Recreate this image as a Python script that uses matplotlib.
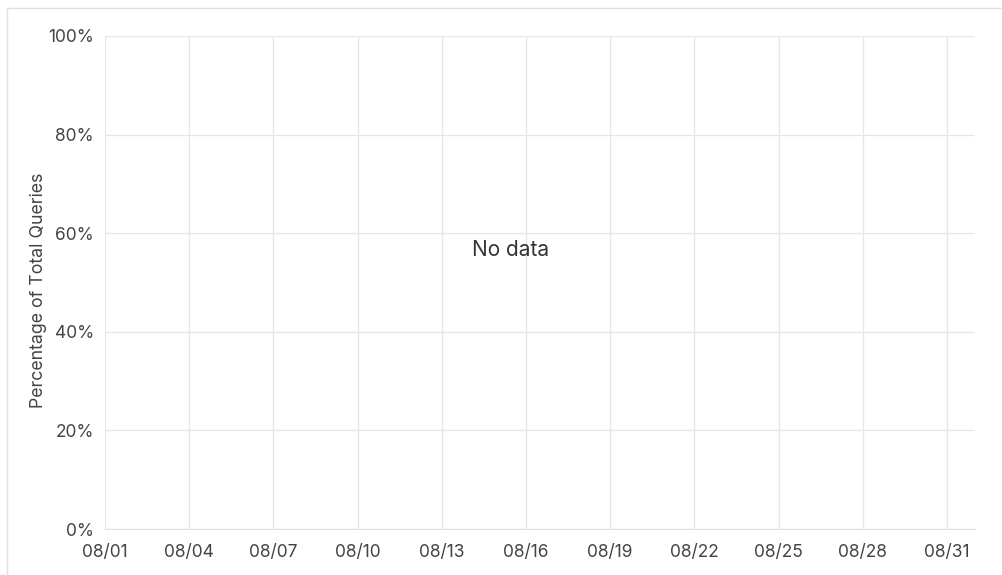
import matplotlib
matplotlib.use("Agg")
import matplotlib.pyplot as plt
import matplotlib.dates as mdates
from matplotlib.lines import Line2D
from matplotlib.ticker import PercentFormatter
import numpy as np

plt.rcParams['font.family'] = ['Inter', 'DejaVu Sans']

# axis range and ticks
start_date = np.datetime64('2024-08-01')
end_date = np.datetime64('2024-09-01')
tick_dates = np.arange(np.datetime64('2024-08-01'), np.datetime64('2024-09-01'), 3)
y_ticks = [0, 20, 40, 60, 80, 100]
y_label = 'Percentage of Total Queries'
empty_text = 'No data'

W, H = 1003, 575
fig = plt.figure(figsize=(W / 100, H / 100), dpi=100)
ax = fig.add_axes([105 / W, 1 - 529 / H, 870 / W, 493 / H])

grid_c = '#e6e6e6'
text_c = '#444444'

ax.set_xlim(start_date, end_date)
ax.set_ylim(0, 100)
ax.set_xticks(tick_dates)
ax.xaxis.set_major_formatter(mdates.DateFormatter('%m/%d'))
ax.set_yticks(y_ticks)
ax.yaxis.set_major_formatter(PercentFormatter(decimals=0))

ax.grid(True, color=grid_c, linewidth=0.9)
for s in ['top', 'right', 'left']:
    ax.spines[s].set_visible(False)
ax.spines['bottom'].set_color('#e0e0e0')
ax.tick_params(length=0, labelsize=12.5, colors=text_c)
ax.tick_params(axis='x', pad=10.5)
ax.tick_params(axis='y', pad=8)
ax.set_axisbelow(True)

# y label sits a little below the axes centre in the reference
fig.text(39 / W, 1 - 290 / H, y_label, rotation=90, ha='center', va='center',
         fontsize=12.8, color=text_c)

ax.text(0.466, 0.566, empty_text, transform=ax.transAxes, ha='center', va='center',
        fontsize=15, color='#333333')

# outer panel border (top and left edges)
fig.add_artist(Line2D([7 / W, 1], [1 - 8 / H, 1 - 8 / H], transform=fig.transFigure,
                      color='#e0e0e0', linewidth=1))
fig.add_artist(Line2D([7 / W, 7 / W], [0, 1 - 8 / H], transform=fig.transFigure,
                      color='#e0e0e0', linewidth=1))

fig.savefig('out.png', dpi=100)
